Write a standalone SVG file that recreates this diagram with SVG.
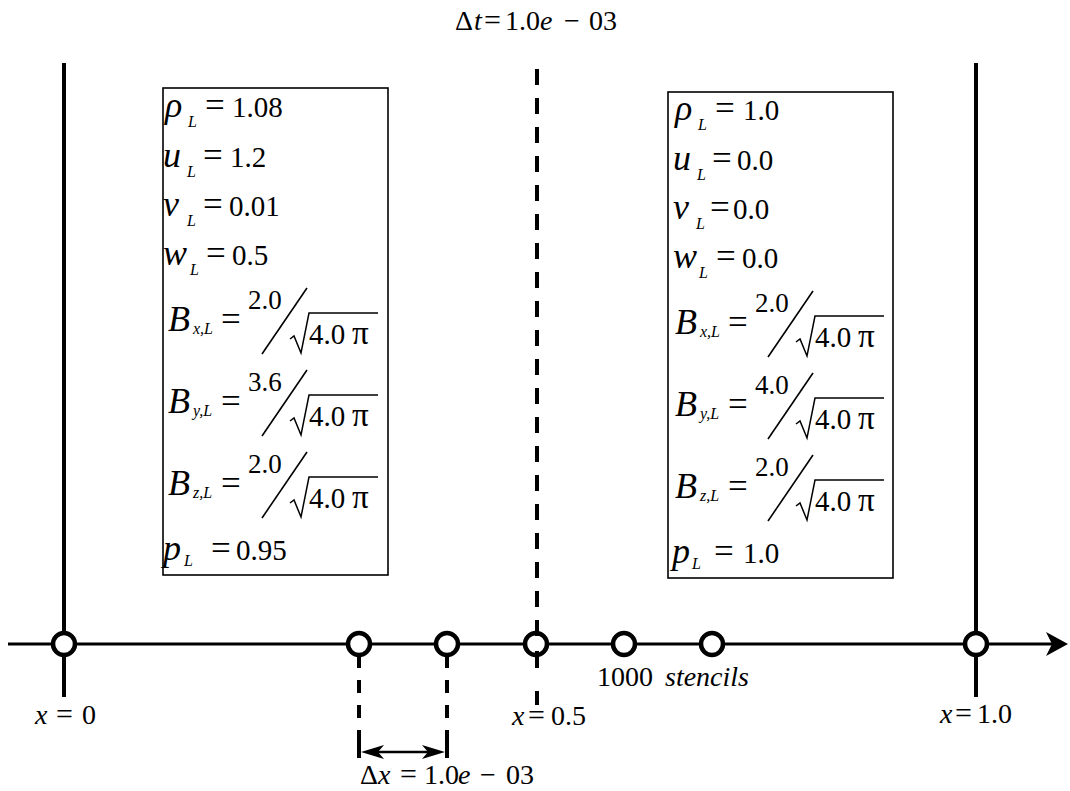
<svg xmlns="http://www.w3.org/2000/svg" width="1070" height="791" viewBox="0 0 1070 791">
<defs>
<style>
text{font-family:'Liberation Serif','DejaVu Serif','Times New Roman',serif;fill:#000}
.v{font-size:36px;font-style:italic}
.t{font-size:29px}
.e{font-size:35px}
.le{font-size:30px}
.n{font-size:27px}
.r{font-size:29px}
.pi{font-size:33px}
.lb{font-size:28px}
.i{font-style:italic}
.s{font-size:16px;font-style:italic}
.box{fill:#fff;stroke:#000;stroke-width:1.6}
.sl{stroke:#000;stroke-width:1.6;fill:none}
.rad{stroke:#000;stroke-width:1.5;fill:none;stroke-linejoin:miter}
.node{fill:#fff;stroke:#000;stroke-width:4.5}
.solid{stroke:#000;stroke-width:4;fill:none}
.axis{stroke:#000;stroke-width:3;fill:none}
.dash{stroke:#000;stroke-width:4;fill:none}
</style>
</defs>
<rect width="1070" height="791" fill="#fff"/>

<g id="connectors">
  <line class="axis" x1="8" y1="644" x2="1055" y2="644"/>
  <path d="M1068,644 L1046,632 L1052,644 L1046,656 Z" fill="#000"/>
  <line class="solid" x1="64" y1="63" x2="64" y2="640"/>
  <line class="solid" x1="64" y1="650" x2="64" y2="697"/>
  <line class="solid" x1="976" y1="63" x2="976" y2="640"/>
  <line class="solid" x1="976" y1="650" x2="976" y2="697"/>
  <line class="dash" x1="359" y1="655" x2="359" y2="743" stroke-dasharray="13 12"/>
  <line class="dash" x1="447" y1="655" x2="447" y2="743" stroke-dasharray="13 12"/>
  <line class="solid" x1="359" y1="740" x2="359" y2="758" stroke-width="3.5"/>
  <line class="solid" x1="447" y1="740" x2="447" y2="758" stroke-width="3.5"/>
  <line x1="372" y1="752" x2="434" y2="752" stroke="#000" stroke-width="2.5"/>
  <path d="M361,752 L384,745 L378,752 L384,759 Z" fill="#000"/>
  <path d="M445,752 L422,745 L428,752 L422,759 Z" fill="#000"/>
</g>

<g id="nodes">
  <circle id="n0" class="node" cx="64" cy="644" r="11"/>
  <circle id="n1" class="node" cx="359" cy="644" r="11"/>
  <circle id="n2" class="node" cx="447" cy="644" r="11"/>
  <circle id="n3" class="node" cx="536" cy="644" r="11"/>
  <circle id="n4" class="node" cx="624" cy="644" r="11"/>
  <circle id="n5" class="node" cx="712" cy="644" r="11"/>
  <circle id="n6" class="node" cx="976" cy="644" r="11"/>
</g>

<g id="center-line">
  <line class="dash" x1="537" y1="69" x2="537" y2="640" stroke-dasharray="16 13"/>
  <line class="dash" x1="537" y1="651" x2="537" y2="668"/>
  <line class="dash" x1="537" y1="691" x2="537" y2="705"/>
</g>

<g id="left-box">
  <rect class="box" x="163" y="88" width="225" height="487"/>
  <text class="v" x="165" y="117">ρ</text><text class="s" x="188" y="127">L</text><text class="e" x="205" y="117">=</text><text class="t" x="232" y="117">1.08</text>
  <text class="v" x="163" y="167">u</text><text class="s" x="187" y="177">L</text><text class="e" x="203" y="167">=</text><text class="t" x="230" y="167">1.2</text>
  <text class="v" x="163" y="216">v</text><text class="s" x="187" y="226">L</text><text class="e" x="203" y="216">=</text><text class="t" x="229" y="216">0.01</text>
  <text class="v" x="163" y="265">w</text><text class="s" x="190" y="275">L</text><text class="e" x="206" y="265">=</text><text class="t" x="232" y="265">0.5</text>

  <text class="v" x="168" y="331">B</text><text class="s" x="193" y="334">x,L</text><text class="e" x="221" y="331">=</text>
  <text class="n" x="248" y="309">2.0</text>
  <line class="sl" x1="262" y1="354" x2="307" y2="288"/>
  <path class="rad" d="M290,339 L294,336 L301,353 L309,313 L378,313"/>
  <text class="r" x="309" y="344">4.0</text><text class="pi" x="352" y="344">π</text>

  <text class="v" x="168" y="413">B</text><text class="s" x="193" y="416">y,L</text><text class="e" x="221" y="413">=</text>
  <text class="n" x="248" y="391">3.6</text>
  <line class="sl" x1="262" y1="436" x2="307" y2="370"/>
  <path class="rad" d="M290,421 L294,418 L301,435 L309,395 L378,395"/>
  <text class="r" x="309" y="426">4.0</text><text class="pi" x="352" y="426">π</text>

  <text class="v" x="168" y="495">B</text><text class="s" x="193" y="498">z,L</text><text class="e" x="221" y="495">=</text>
  <text class="n" x="248" y="473">2.0</text>
  <line class="sl" x1="262" y1="518" x2="307" y2="452"/>
  <path class="rad" d="M290,503 L294,500 L301,517 L309,477 L378,477"/>
  <text class="r" x="309" y="508">4.0</text><text class="pi" x="352" y="508">π</text>

  <text class="v" x="163" y="560">p</text><text class="s" x="184" y="566">L</text><text class="e" x="211" y="560">=</text><text class="t" x="236" y="560">0.95</text>
</g>

<g id="right-box" transform="translate(506,3)">
  <rect class="box" x="162" y="89" width="225" height="486"/>
  <text class="v" x="169" y="117">ρ</text><text class="s" x="192" y="127">L</text><text class="e" x="209" y="117">=</text><text class="t" x="237" y="117">1.0</text>
  <text class="v" x="167" y="167">u</text><text class="s" x="191" y="177">L</text><text class="e" x="206" y="167">=</text><text class="t" x="231" y="167">0.0</text>
  <text class="v" x="167" y="216">v</text><text class="s" x="190" y="226">L</text><text class="e" x="204" y="216">=</text><text class="t" x="227" y="216">0.0</text>
  <text class="v" x="167" y="265">w</text><text class="s" x="193" y="275">L</text><text class="e" x="210" y="265">=</text><text class="t" x="236" y="265">0.0</text>

  <text class="v" x="169" y="331">B</text><text class="s" x="194" y="334">x,L</text><text class="e" x="222" y="331">=</text>
  <text class="n" x="249" y="309">2.0</text>
  <line class="sl" x1="262" y1="354" x2="307" y2="288"/>
  <path class="rad" d="M290,339 L294,336 L301,353 L309,313 L378,313"/>
  <text class="r" x="309" y="344">4.0</text><text class="pi" x="352" y="344">π</text>

  <text class="v" x="169" y="413">B</text><text class="s" x="194" y="416">y,L</text><text class="e" x="222" y="413">=</text>
  <text class="n" x="249" y="391">4.0</text>
  <line class="sl" x1="262" y1="436" x2="307" y2="370"/>
  <path class="rad" d="M290,421 L294,418 L301,435 L309,395 L378,395"/>
  <text class="r" x="309" y="426">4.0</text><text class="pi" x="352" y="426">π</text>

  <text class="v" x="169" y="495">B</text><text class="s" x="194" y="498">z,L</text><text class="e" x="222" y="495">=</text>
  <text class="n" x="249" y="473">2.0</text>
  <line class="sl" x1="262" y1="518" x2="307" y2="452"/>
  <path class="rad" d="M290,503 L294,500 L301,517 L309,477 L378,477"/>
  <text class="r" x="309" y="508">4.0</text><text class="pi" x="352" y="508">π</text>

  <text class="v" x="166" y="560">p</text><text class="s" x="186" y="566">L</text><text class="e" x="208" y="560">=</text><text class="t" x="237" y="560">1.0</text>
</g>

<g id="labels">
  <text class="lb" y="30"><tspan x="455">Δ</tspan><tspan x="474" class="i">t</tspan><tspan x="484" class="le">=</tspan><tspan x="505">1.0</tspan><tspan x="540" class="i">e</tspan><tspan x="564">−</tspan><tspan x="589">03</tspan></text>
  <text class="lb" y="724"><tspan x="35" class="i">x</tspan><tspan x="56" class="le">=</tspan><tspan x="82">0</tspan></text>
  <text class="lb" y="725"><tspan x="512" class="i">x</tspan><tspan x="528" class="le">=</tspan><tspan x="551">0.5</tspan></text>
  <text class="lb" y="723"><tspan x="940" class="i">x</tspan><tspan x="955" class="le">=</tspan><tspan x="977">1.0</tspan></text>
  <text class="lb" y="686"><tspan x="597">1000</tspan><tspan x="665" class="i">stencils</tspan></text>
  <text class="lb" y="784"><tspan x="360">Δ</tspan><tspan x="378" class="i">x</tspan><tspan x="400" class="le">=</tspan><tspan x="424">1.0</tspan><tspan x="458" class="i">e</tspan><tspan x="480">−</tspan><tspan x="506">03</tspan></text>
</g>
</svg>
